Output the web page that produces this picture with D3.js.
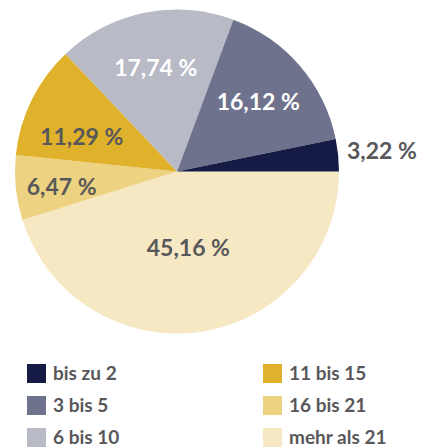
<!DOCTYPE html>
<html>
<head>
<meta charset="utf-8">
<script src="https://cdn.jsdelivr.net/npm/d3@7"></script>
<style>
body{margin:0;background:#fff;}
text{font-family:Lato,"Open Sans",sans-serif;font-weight:bold;}
</style>
</head>
<body>
<svg id="drawing_region"></svg>
<script>
// slices, clockwise starting at 3 o'clock
const categories = ["mehr als 21","16 bis 21","11 bis 15","6 bis 10","3 bis 5","bis zu 2"];
const values = [45.16, 6.47, 11.29, 17.74, 16.12, 3.22];
const labels = ["45,16 %","6,47 %","11,29 %","17,74 %","16,12 %","3,22 %"];
const legendOrder = ["bis zu 2","3 bis 5","6 bis 10","11 bis 15","16 bis 21","mehr als 21"];

const colors = {
    "bis zu 2":"#151b45",
    "3 bis 5":"#6e728c",
    "6 bis 10":"#b8bac6",
    "11 bis 15":"#e0b12b",
    "16 bis 21":"#edd282",
    "mehr als 21":"#f6e8c3"
};
const labelFill = {"6 bis 10":"#fff","3 bis 5":"#fff"};
const labelRadius = {"mehr als 21":75,"16 bis 21":116,"11 bis 15":104,"6 bis 10":106,"3 bis 5":107};
const labelNudge = {"11 bis 15":[-2,11],"16 bis 21":[0,4],"mehr als 21":[0,2]};

const width = 429, height = 448;
const cx = 177, cy = 171.5, r = 162;

const svg = d3.select("#drawing_region")
    .attr("width",width)
    .attr("height",height);

const data = categories.map((c,i)=>({cat:c,value:values[i],label:labels[i]}));

const pie = d3.pie()
    .value(d=>d.value)
    .sort(null)
    .startAngle(Math.PI/2)
    .endAngle(Math.PI/2+2*Math.PI);

const arc = d3.arc().innerRadius(0).outerRadius(r);
const arcs = pie(data);

const chart = svg.append("g")
    .attr("transform",`translate(${cx},${cy})`);

chart.selectAll("path")
    .data(arcs)
    .enter()
    .append("path")
    .attr("d",arc)
    .attr("fill",d=>colors[d.data.cat]);

chart.selectAll("text.lbl")
    .data(arcs)
    .enter()
    .append("text")
    .attr("class","lbl")
    .attr("transform",d=>{
        const a = (d.startAngle+d.endAngle)/2;
        if(d.data.cat=="bis zu 2"){
            return `translate(${r+8},${-r*Math.cos(a)-4})`;
        }
        const lr = labelRadius[d.data.cat];
        const n = labelNudge[d.data.cat]||[0,0];
        return `translate(${lr*Math.sin(a)+n[0]},${-lr*Math.cos(a)+n[1]})`;
    })
    .attr("text-anchor",d=>d.data.cat=="bis zu 2"?"start":"middle")
    .attr("dy","0.35em")
    .attr("font-size","23px")
    .attr("fill",d=>labelFill[d.data.cat]||"#58585a")
    .text(d=>d.data.label);

// legend
const legend = svg.append("g");
const cols = d3.scaleOrdinal().domain([0,1]).range([27,263]);
const rows = d3.scaleLinear().domain([0,1]).range([364,396]);

const item = legend.selectAll("g")
    .data(legendOrder)
    .enter()
    .append("g")
    .attr("transform",(d,i)=>`translate(${cols(Math.floor(i/3))},${rows(i%3)})`);

item.append("rect")
    .attr("width",19)
    .attr("height",19)
    .attr("fill",d=>colors[d]);

item.append("text")
    .attr("x",26)
    .attr("y",9.5)
    .attr("dy","0.35em")
    .attr("font-size","19px")
    .attr("fill","#58585a")
    .text(d=>d);
</script>
</body>
</html>
